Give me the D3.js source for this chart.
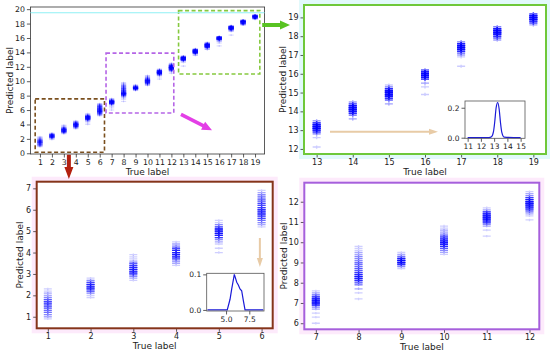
<!DOCTYPE html>
<html>
<head>
<meta charset="utf-8">
<script src="https://cdn.jsdelivr.net/npm/d3@7"></script>
<style>
body { margin: 0; background: #fff; }
svg { display: block; font-family: "DejaVu Sans", sans-serif; }
</style>
</head>
<body>
<svg id="chart" width="550" height="353"></svg>
<script>
// true labels (classes) and predicted label samples, as [predicted value, count] pairs
const trueLabels = [1, 2, 3, 4, 5, 6, 7, 8, 9, 10, 11, 12, 13, 14, 15, 16, 17, 18, 19];

const predLow = [
    [[0.9,1],[1.0,2],[1.1,3],[1.2,4],[1.3,4],[1.4,5],[1.5,6],[1.6,7],[1.7,6],[1.8,5],[1.9,3],[2.0,2],[2.1,2],[2.2,1],[2.3,1]],
    [[1.9,1],[2.0,1],[2.1,3],[2.2,6],[2.3,9],[2.4,10],[2.5,9],[2.6,6],[2.7,3],[2.8,1]],
    [[2.7,1],[2.8,2],[2.9,4],[3.0,8],[3.1,10],[3.2,10],[3.3,9],[3.4,7],[3.5,5],[3.6,2],[3.7,1],[3.8,1],[3.9,1]],
    [[3.4,1],[3.5,2],[3.6,3],[3.7,6],[3.8,9],[3.9,10],[4.0,10],[4.1,9],[4.2,6],[4.3,3],[4.4,2],[4.5,1]],
    [[4.0,1],[4.2,1],[4.4,1],[4.5,2],[4.6,3],[4.7,7],[4.8,10],[4.9,12],[5.0,12],[5.1,10],[5.2,6],[5.3,3],[5.4,1],[5.5,1]],
    [[5.2,1],[5.3,2],[5.4,3],[5.5,4],[5.6,6],[5.7,7],[5.8,8],[5.9,9],[6.0,8],[6.1,7],[6.2,6],[6.3,6],[6.4,5],[6.5,5],[6.6,4],[6.7,3],[6.8,2],[6.9,1]]
];
const predMid = [
    [[6.0,1],[6.3,1],[6.5,1],[6.7,2],[6.8,3],[6.9,8],[7.0,12],[7.1,14],[7.2,12],[7.3,8],[7.4,4],[7.5,2],[7.6,1]],
    [[7.2,1],[7.5,1],[7.7,2],[7.9,3],[8.0,4],[8.1,8],[8.2,10],[8.3,11],[8.4,9],[8.5,7],[8.6,5],[8.7,5],[8.8,4],[8.9,4],[9.0,4],[9.1,3],[9.2,3],[9.3,3],[9.4,2],[9.5,2],[9.6,1],[9.7,1],[9.8,1]],
    [[8.7,1],[8.8,3],[8.9,8],[9.0,13],[9.1,14],[9.2,10],[9.3,4],[9.4,2],[9.5,1]],
    [[9.4,1],[9.5,2],[9.6,3],[9.7,5],[9.8,8],[9.9,10],[10.0,11],[10.1,10],[10.2,8],[10.3,6],[10.4,3],[10.5,2],[10.6,2],[10.7,1],[10.8,1]],
    [[10.3,1],[10.6,1],[10.8,2],[10.9,4],[11.0,8],[11.1,12],[11.2,14],[11.3,13],[11.4,11],[11.5,7],[11.6,2],[11.7,1]],
    [[11.1,1],[11.3,1],[11.4,2],[11.5,4],[11.6,7],[11.7,10],[11.8,12],[11.9,13],[12.0,12],[12.1,10],[12.2,7],[12.3,3],[12.4,2],[12.5,1]]
];
const predHigh = [
    [[12.1,1],[12.6,1],[12.8,3],[12.9,6],[13.0,12],[13.1,15],[13.2,15],[13.3,12],[13.4,6],[13.5,2]],
    [[13.6,2],[13.8,4],[13.9,8],[14.0,12],[14.1,15],[14.2,15],[14.3,12],[14.4,6],[14.5,2]],
    [[14.4,2],[14.6,4],[14.7,7],[14.8,11],[14.9,14],[15.0,15],[15.1,13],[15.2,8],[15.3,3],[15.4,1]],
    [[14.9,1],[15.3,1],[15.5,2],[15.7,5],[15.8,10],[15.9,14],[16.0,15],[16.1,12],[16.2,4]],
    [[16.4,1],[16.9,1],[17.0,2],[17.1,4],[17.2,8],[17.3,13],[17.4,15],[17.5,14],[17.6,9],[17.7,3]],
    [[17.8,2],[17.9,4],[18.0,7],[18.1,11],[18.2,14],[18.3,15],[18.4,10],[18.5,3]],
    [[18.6,2],[18.7,5],[18.8,10],[18.9,14],[19.0,15],[19.1,12],[19.2,4]]
];

// density curves shown in the insets
const densLowX = [3.0, 5.0, 5.13, 5.43, 5.61, 5.89, 6.15, 6.32, 6.5, 6.68, 6.86, 7.04, 9.0];
const densLowY = [0, 0, 0, 0.03, 0.059, 0.1, 0.078, 0.07, 0.059, 0.054, 0.026, 0, 0];
const densHighX = [11, 12.6, 12.8, 12.95, 13.05, 13.15, 13.27, 13.38, 13.48, 13.58, 13.75, 15];
const densHighY = [0, 0, 0.006, 0.04, 0.11, 0.2, 0.235, 0.19, 0.1, 0.035, 0.004, 0];

// tick labels
const mainXTicks = trueLabels;
const mainYTicks = [0, 2, 4, 6, 8, 10, 12, 14, 16, 18, 20];
const lowXTicks = [1, 2, 3, 4, 5, 6];
const lowYTicks = [1, 2, 3, 4, 5, 6, 7];
const midXTicks = [7, 8, 9, 10, 11, 12];
const midYTicks = [6, 7, 8, 9, 10, 11, 12];
const highXTicks = [13, 14, 15, 16, 17, 18, 19];
const highYTicks = [12, 13, 14, 15, 16, 17, 18, 19];
const insetLowXTicks = [5.0, 7.5];
const insetLowYTicks = [0.0, 0.1];
const insetHighXTicks = [11, 12, 13, 14, 15];
const insetHighYTicks = [0.0, 0.2];

const allPreds = predLow.concat(predMid, predHigh);

const svg = d3.select("#chart");

function plusPath(w, h) {
    return `M${-w},0H${w}M0,${-h}V${h}`;
}

// polygon for a matplotlib-like fancy arrow
function arrowPath(x1, y1, x2, y2, w, hw, hl) {
    const len = Math.hypot(x2 - x1, y2 - y1);
    const ux = (x2 - x1) / len, uy = (y2 - y1) / len;
    const nx = -uy, ny = ux;
    const bx = x2 - ux * hl, by = y2 - uy * hl;
    const p = [
        [x1 + nx * w / 2, y1 + ny * w / 2],
        [bx + nx * w / 2, by + ny * w / 2],
        [bx + nx * hw / 2, by + ny * hw / 2],
        [x2, y2],
        [bx - nx * hw / 2, by - ny * hw / 2],
        [bx - nx * w / 2, by - ny * w / 2],
        [x1 - nx * w / 2, y1 - ny * w / 2]
    ];
    return "M" + p.map(d => d.join(",")).join("L") + "Z";
}

function styleAxis(sel, size) {
    sel.select(".domain").remove();
    sel.attr("font-family", "DejaVu Sans").attr("font-size", size);
    sel.selectAll("line").attr("stroke", "#333").attr("stroke-width", 0.8);
    sel.selectAll("text").attr("fill", "#222");
}

function panel(o) {
    const g = svg.append("g");
    const x = d3.scaleLinear().domain(o.xDomain).range([o.left, o.right]);
    const y = d3.scaleLinear().domain(o.yDomain).range([o.bottom, o.top]);

    if (o.glow) {
        g.append("rect")
            .attr("x", o.left - 5).attr("y", o.top - 5)
            .attr("width", o.right - o.left + 10).attr("height", o.bottom - o.top + 10)
            .attr("fill", o.glow);
    }
    g.append("rect")
        .attr("x", o.left).attr("y", o.top)
        .attr("width", o.right - o.left).attr("height", o.bottom - o.top)
        .attr("fill", "#fff");

    g.append("g")
        .attr("transform", `translate(0,${o.bottom})`)
        .call(d3.axisBottom(x).tickValues(o.xTicks).tickSize(3.5).tickPadding(2).tickFormat(o.xFmt || d3.format("d")))
        .call(s => styleAxis(s, o.tickFont));
    g.append("g")
        .attr("transform", `translate(${o.left},0)`)
        .call(d3.axisLeft(y).tickValues(o.yTicks).tickSize(3.5).tickPadding(2).tickFormat(o.yFmt || d3.format("d")))
        .call(s => styleAxis(s, o.tickFont));

    if (o.labels) {
        const pts = [];
        o.labels.forEach(t => {
            allPreds[trueLabels.indexOf(t)].forEach(([v, n]) => {
                for (let k = 0; k < n; k++) pts.push({t, v});
            });
        });
        g.append("g")
            .selectAll("path")
            .data(pts)
            .join("path")
            .attr("d", plusPath(o.mw, o.mh))
            .attr("transform", d => `translate(${x(d.t)},${y(d.v)})`)
            .attr("fill", "none")
            .attr("stroke", "#0000ff")
            .attr("stroke-width", o.sw || 1)
            .attr("stroke-opacity", o.alpha);
    }

    if (o.curveX) {
        const line = d3.line()
            .curve(o.smooth ? d3.curveMonotoneX : d3.curveLinear)
            .x(d => x(d[0]))
            .y(d => y(d[1]));
        g.append("path")
            .attr("d", line(d3.zip(o.curveX, o.curveY)))
            .attr("fill", "none")
            .attr("stroke", "#1a1ad8")
            .attr("stroke-width", 1.2);
    }

    g.append("rect")
        .attr("x", o.left).attr("y", o.top)
        .attr("width", o.right - o.left).attr("height", o.bottom - o.top)
        .attr("fill", "none")
        .attr("stroke", o.frame)
        .attr("stroke-width", o.frameWidth);

    if (o.xLabel) {
        g.append("text")
            .attr("x", (o.left + o.right) / 2)
            .attr("y", o.bottom + 21)
            .attr("text-anchor", "middle")
            .attr("font-size", 9)
            .attr("fill", "#222")
            .text(o.xLabel);
        g.append("text")
            .attr("transform", `translate(${o.yLabelX},${(o.top + o.bottom) / 2}) rotate(-90)`)
            .attr("text-anchor", "middle")
            .attr("font-size", 9)
            .attr("fill", "#222")
            .text(o.yLabel);
    }
    return {x, y, g};
}

// main overview
const main = panel({
    left: 30.4, right: 264.6, top: 7, bottom: 154,
    xDomain: [0.2, 19.8], yDomain: [-0.1, 20.3],
    xTicks: mainXTicks, yTicks: mainYTicks, tickFont: 7.8,
    labels: trueLabels, mw: 2.6, mh: 1, alpha: 0.16,
    frame: "#333", frameWidth: 0.8,
    xLabel: "True label", yLabel: "Predicted label", yLabelX: 13
});

// stray cyan line along the top of the overview
svg.append("line")
    .attr("x1", main.x(0.2)).attr("x2", main.x(19.8))
    .attr("y1", main.y(19.5)).attr("y2", main.y(19.5))
    .attr("stroke", "#8ff0f4").attr("stroke-width", 1.2);

// zoom boxes on the overview
const zoomBoxes = [
    {x0: 0.6, x1: 6.4, y0: 0.15, y1: 7.55, color: "#7a4f1e"},
    {x0: 6.53, x1: 12.2, y0: 5.6, y1: 13.9, color: "#b565e6"},
    {x0: 12.6, x1: 19.4, y0: 11.0, y1: 19.8, color: "#86c93f"}
];
main.g.append("g")
    .selectAll("rect")
    .data(zoomBoxes)
    .join("rect")
    .attr("x", d => main.x(d.x0))
    .attr("y", d => main.y(d.y1))
    .attr("width", d => main.x(d.x1) - main.x(d.x0))
    .attr("height", d => main.y(d.y0) - main.y(d.y1))
    .attr("fill", "none")
    .attr("stroke", d => d.color)
    .attr("stroke-width", 1.6)
    .attr("stroke-dasharray", "4,2.5");

// zoomed panels
const high = panel({
    left: 304, right: 546, top: 5, bottom: 154,
    xDomain: [12.65, 19.35], yDomain: [11.73, 19.66],
    xTicks: highXTicks, yTicks: highYTicks, tickFont: 8,
    labels: highXTicks, mw: 4, mh: 1.6, sw: 1.4, alpha: 0.2,
    frame: "#6fc83a", frameWidth: 2, glow: "#e2f9fb",
    xLabel: "True label", yLabel: "Predicted label", yLabelX: 286
});
const low = panel({
    left: 36.7, right: 272.7, top: 181.7, bottom: 328.3,
    xDomain: [0.74, 6.26], yDomain: [0.46, 7.31],
    xTicks: lowXTicks, yTicks: lowYTicks, tickFont: 8,
    labels: lowXTicks, mw: 4, mh: 1.2, sw: 1.3, alpha: 0.19,
    frame: "#85341a", frameWidth: 2, glow: "#fdeafb",
    xLabel: "True label", yLabel: "Predicted label", yLabelX: 23
});
const mid = panel({
    left: 304.3, right: 539.3, top: 182.7, bottom: 329.3,
    xDomain: [6.73, 12.23], yDomain: [5.7, 12.94],
    xTicks: midXTicks, yTicks: midYTicks, tickFont: 8,
    labels: midXTicks, mw: 4, mh: 1.2, sw: 1.3, alpha: 0.19,
    frame: "#a65fdc", frameWidth: 2, glow: "#fdeafb",
    xLabel: "True label", yLabel: "Predicted label", yLabelX: 287
});

// insets with the density of one class
panel({
    left: 465, right: 525, top: 101, bottom: 138.3,
    xDomain: [10.8, 15.33], yDomain: [-0.004, 0.245],
    xTicks: insetHighXTicks, yTicks: insetHighYTicks, tickFont: 7.5,
    xFmt: d3.format("d"), yFmt: d3.format(".1f"),
    curveX: densHighX, curveY: densHighY, smooth: true,
    frame: "#555", frameWidth: 0.8
});
panel({
    left: 206.7, right: 264, top: 273.3, bottom: 311,
    xDomain: [2.92, 9.08], yDomain: [-0.003, 0.103],
    xTicks: insetLowXTicks, yTicks: insetLowYTicks, tickFont: 7.5,
    xFmt: d3.format(".1f"), yFmt: d3.format(".1f"),
    curveX: densLowX, curveY: densLowY, smooth: false,
    frame: "#555", frameWidth: 0.8
});

// arrows
const arrows = [
    {d: arrowPath(main.x(19.6), 25, 290, 25, 4, 9, 10), color: "#58c322"},
    {d: arrowPath(main.x(12.8), main.y(5.4), main.x(15.4), main.y(3.2), 3.5, 9, 10), color: "#e33fe6"},
    {d: arrowPath(main.x(3.42), main.y(-0.2), main.x(3.42), 179, 4, 9, 12), color: "#b3200f"},
    {d: arrowPath(high.x(13.37), high.y(12.92), high.x(16.36), high.y(12.92), 2, 6, 9), color: "#e8cba6"},
    {d: arrowPath(low.x(5.96), low.y(4.68), low.x(5.96), low.y(3.33), 2, 6, 9), color: "#e8cba6"}
];
svg.append("g")
    .selectAll("path")
    .data(arrows)
    .join("path")
    .attr("d", d => d.d)
    .attr("fill", d => d.color);
</script>
</body>
</html>
